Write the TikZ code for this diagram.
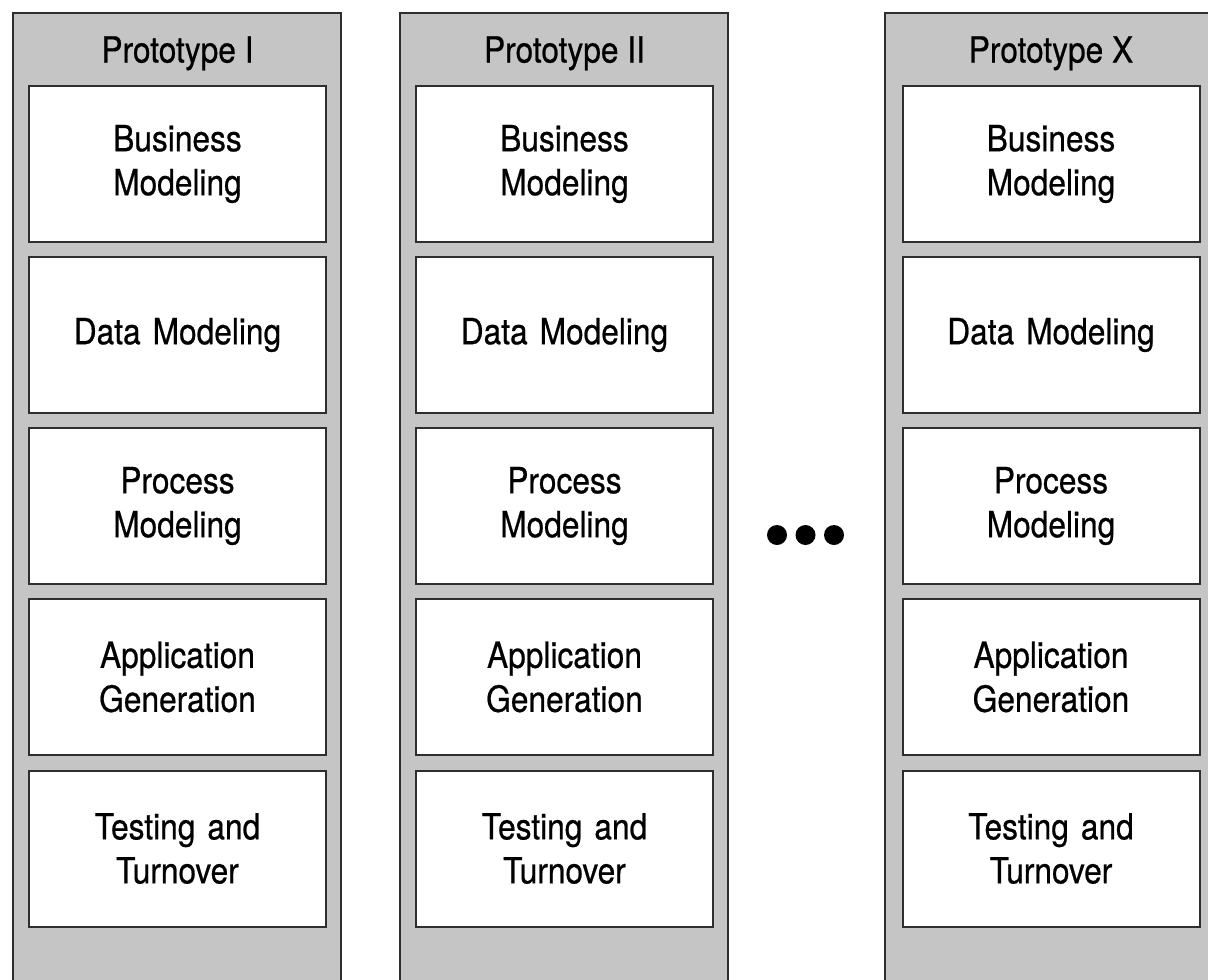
\documentclass[tikz,border=0pt]{standalone}
\usepackage{fontspec}
\setmainfont{TeX Gyre Heros}[FakeStretch=0.88,FakeBold=0.6]
\definecolor{colgray}{HTML}{C5C5C5}
\definecolor{edge}{HTML}{2E2E2E}
\begin{document}
\begin{tikzpicture}[x=1pt,y=-1pt,
  column/.style={fill=colgray,draw=edge,line width=2pt},
  stagebox/.style={draw=edge,fill=white,line width=2pt,minimum width=297pt,minimum height=156pt,
    text width=280pt,align=center,inner sep=0pt,
    font=\fontsize{36pt}{44pt}\selectfont},
  title/.style={font=\fontsize{36pt}{44pt}\selectfont,inner sep=0pt,anchor=base},
  dot/.style={circle,fill=black,minimum size=20pt,inner sep=0pt}]
\useasboundingbox (0,0) rectangle (1208,980);
\clip (0,0) rectangle (1208,980);
\foreach \c/\gl/\gr/\cx/\t in {1/12.5/341/177.5/Prototype I,2/399.5/728/564.5/Prototype II,3/884.5/1215/1051/Prototype X}{
  \draw[column] (\gl,12.5) rectangle (\gr,1000);
  \node[title] (t\c) at (\cx,62.5) {\t};
  \node[stagebox] (b\c1) at (\cx,164) {Business\\Modeling};
  \node[stagebox] (b\c2) at (\cx,335) {Data Modeling};
  \node[stagebox] (b\c3) at (\cx,506) {Process\\Modeling};
  \node[stagebox] (b\c4) at (\cx,677) {Application\\Generation};
  \node[stagebox] (b\c5) at (\cx,848.5) {Testing and\\Turnover};
}
\node[dot] (d1) at (777,535) {};
\node[dot] (d2) at (805.5,535) {};
\node[dot] (d3) at (834,535) {};
\end{tikzpicture}
\end{document}
